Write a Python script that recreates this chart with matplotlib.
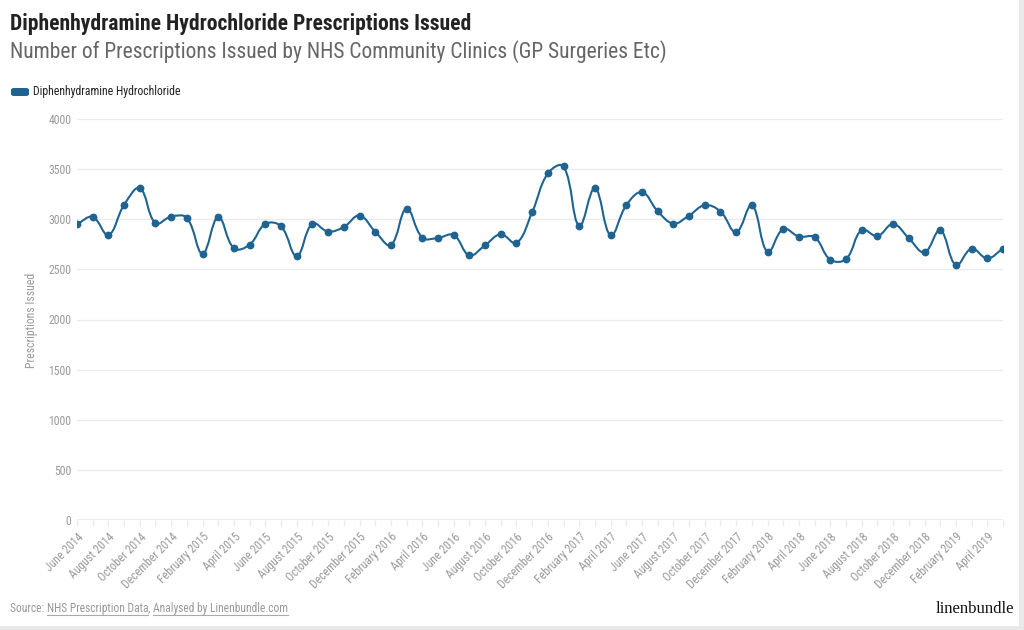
import numpy as np
import pandas as pd
import matplotlib
matplotlib.use('Agg')
import matplotlib.pyplot as plt
from matplotlib import font_manager as fm
from matplotlib.path import Path
from matplotlib.patches import PathPatch, FancyBboxPatch, Rectangle
from matplotlib.lines import Line2D

# data
months = pd.date_range('2014-06-01', periods=60, freq='MS').strftime('%B %Y').tolist()
prescriptions = [2950, 3023, 2843, 3143, 3310, 2960, 3027, 3013, 2657, 3023, 2710, 2747,
                 2953, 2930, 2633, 2957, 2877, 2923, 3037, 2877, 2743, 3107, 2817, 2813,
                 2843, 2640, 2740, 2850, 2763, 3070, 3457, 3527, 2933, 3310, 2840, 3140,
                 3270, 3080, 2957, 3037, 3140, 3077, 2870, 3140, 2673, 2903, 2827, 2820,
                 2597, 2603, 2893, 2833, 2953, 2810, 2670, 2890, 2543, 2707, 2610, 2707]
yticks = [0, 500, 1000, 1500, 2000, 2500, 3000, 3500, 4000]

title = 'Diphenhydramine Hydrochloride Prescriptions Issued'
subtitle = 'Number of Prescriptions Issued by NHS Community Clinics (GP Surgeries Etc)'
series_name = 'Diphenhydramine Hydrochloride'

# fonts - condensed if we have one
names = {f.name for f in fm.fontManager.ttflist}
cond = 'Roboto'
for n in ['Roboto Condensed', 'Liberation Sans Narrow']:
    if n in names:
        cond = n
        break
narrow = cond != 'Roboto'
plt.rcParams['font.family'] = [cond, 'DejaVu Sans']

blue = '#1f6491'
grid_c = '#ebebeb'
tick_c = '#9a9a9a'

W, H = 1024, 630
fig = plt.figure(figsize=(W / 100, H / 100), dpi=100)
fig.patch.set_facecolor('#e9e9e9')
fig.add_artist(Rectangle((0, 4 / H), 1019 / W, 1 - 4 / H, transform=fig.transFigure,
                         facecolor='white', edgecolor='none', zorder=-10))

def px(x, y):
    return x / W, 1 - y / H

ax = fig.add_axes([77 / W, (H - 520) / H, (1003 - 77) / W, (520 - 119) / H])
x = np.arange(len(prescriptions))
y = np.array(prescriptions, dtype=float)
ax.set_xlim(0, len(x) - 1)
ax.set_ylim(0, 4000)

# smooth line like chart.js (tension 0.4), computed in pixel space
pts = ax.transData.transform(np.column_stack([x, y]))
t = 0.4
n = len(pts)
cp_prev = np.zeros_like(pts)
cp_next = np.zeros_like(pts)
for i in range(n):
    p0 = pts[max(i - 1, 0)]
    p1 = pts[i]
    p2 = pts[min(i + 1, n - 1)]
    d01 = np.hypot(*(p1 - p0))
    d12 = np.hypot(*(p2 - p1))
    s = d01 + d12
    s01 = d01 / s if s else 0
    s12 = d12 / s if s else 0
    cp_prev[i] = p1 - t * s01 * (p2 - p0)
    cp_next[i] = p1 + t * s12 * (p2 - p0)
verts = [pts[0]]
codes = [Path.MOVETO]
for i in range(n - 1):
    verts += [cp_next[i], cp_prev[i + 1], pts[i + 1]]
    codes += [Path.CURVE4] * 3
verts = ax.transData.inverted().transform(np.array(verts))
ax.add_patch(PathPatch(Path(verts, codes), facecolor='none', edgecolor=blue,
                       linewidth=1.5, zorder=3, capstyle='round', joinstyle='round'))
ax.plot(x, y, linestyle='none', marker='o', markersize=4.6, color=blue, zorder=4)

# axes styling
for s in ax.spines.values():
    s.set_visible(False)
ax.set_yticks(yticks)
ax.set_yticklabels([str(v) for v in yticks])
ax.yaxis.grid(True, color=grid_c, linewidth=1)
ax.set_axisbelow(True)
ax.axhline(0, color=grid_c, linewidth=1.2, zorder=1)
ax.tick_params(axis='y', length=0, pad=4, labelsize=8.5 if narrow else 8, labelcolor=tick_c)
ax.set_xticks(x)
ax.set_xticklabels([m if i % 2 == 0 else '' for i, m in enumerate(months)],
                   rotation=45, ha='right', rotation_mode='anchor')
ax.tick_params(axis='x', length=4.5, color=grid_c, width=1, pad=3,
               labelsize=8.5 if narrow else 8, labelcolor=tick_c)

fig.text(*px(32, 320), 'Prescriptions Issued', rotation=90, ha='center', va='center',
         fontsize=8.5 if narrow else 8, color=tick_c)

# titles
fig.text(*px(10, 30), title, fontsize=15.6 if narrow else 13.5, fontweight='bold',
         color='#222222', va='baseline', ha='left')
fig.text(*px(10, 58), subtitle, fontsize=15.5 if narrow else 13.5, color='#666666',
         va='baseline', ha='left')

# legend
fig.add_artist(FancyBboxPatch(px(11, 96), 18 / W, 8 / H, transform=fig.transFigure,
                              boxstyle='round,pad=0,rounding_size=0.003',
                              facecolor=blue, edgecolor='none'))
fig.text(*px(33, 92), series_name, fontsize=8.5 if narrow else 7.8, color='#222222',
         va='center', ha='left')

# source line with underlined links
r = fig.canvas.get_renderer()
src_parts = [('Source: ', False), ('NHS Prescription Data', True), (', ', False),
             ('Analysed by Linenbundle.com', True)]
xpos = 10
for txt, link in src_parts:
    tt = fig.text(*px(xpos, 612), txt, fontsize=8.3 if narrow else 7.8, color='#999999',
                  va='baseline', ha='left')
    bb = tt.get_window_extent(renderer=r)
    if link:
        yl = 1 - 615 / H
        fig.add_artist(Line2D([bb.x0 / W, bb.x1 / W], [yl, yl], transform=fig.transFigure,
                              color='#aaaaaa', linewidth=0.8))
    xpos = bb.x1
fig.text(*px(1014, 613), 'linenbundle', fontsize=12, family='Liberation Serif',
         color='#111111', ha='right', va='baseline')

fig.savefig('out.png', dpi=100, facecolor=fig.get_facecolor())
